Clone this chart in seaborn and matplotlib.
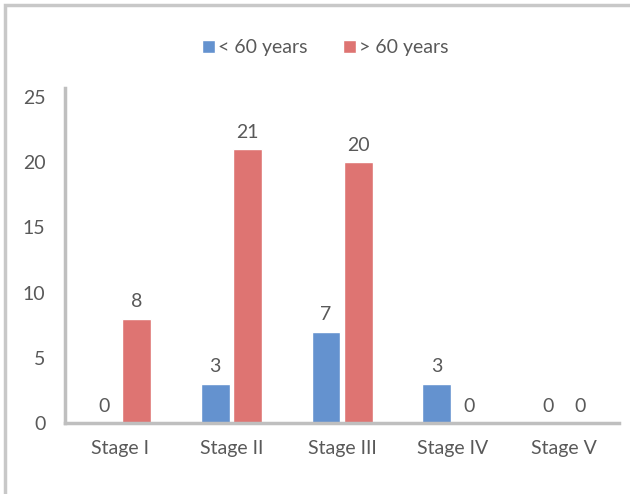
import pandas as pd
import matplotlib
matplotlib.use("Agg")
import matplotlib.pyplot as plt
import seaborn as sns
from matplotlib.patches import Rectangle

# Data
stages = ["Stage I", "Stage II", "Stage III", "Stage IV", "Stage V"]
under_60 = [0, 3, 7, 3, 0]
over_60 = [8, 21, 20, 0, 0]
groups = ["< 60 years", "> 60 years"]

data = pd.DataFrame({
    "Stage": stages * 2,
    "Group": [groups[0]] * len(stages) + [groups[1]] * len(stages),
    "Count": under_60 + over_60,
})

sns.set_style("white")
plt.rcParams["font.family"] = ["Lato", "DejaVu Sans"]
text_col = "#595959"
fs = 14

fig = plt.figure(figsize=(6.3, 4.94), dpi=100)
ax = fig.add_axes([0.103, 0.144, 0.880, 0.678])

palette = {groups[0]: "#6492cf", groups[1]: "#de7472"}
sns.barplot(data=data, x="Stage", y="Count", hue="Group", palette=palette,
            width=0.58, gap=0.1, saturation=1, ax=ax, legend=True)

for container in ax.containers:
    ax.bar_label(container, padding=6, fontsize=fs, color=text_col)

ax.set_ylim(0, 25.7)
ax.set_yticks([0, 5, 10, 15, 20, 25])
ax.set_xlim(-0.5, 4.5)
ax.set_xlabel("")
ax.set_ylabel("")
ax.tick_params(axis="both", labelsize=fs, colors=text_col, length=0)
ax.tick_params(axis="y", pad=14)
ax.tick_params(axis="x", pad=12)

for side in ["top", "right"]:
    ax.spines[side].set_visible(False)
for side in ["left", "bottom"]:
    ax.spines[side].set_color("#bfbfbf")
    ax.spines[side].set_linewidth(2.5)

ax.legend(loc="center", bbox_to_anchor=(0.47, 1.12), ncol=2, frameon=False,
          fontsize=fs, labelcolor=text_col, handlelength=0.65, handleheight=0.65,
          handletextpad=0.2, columnspacing=1.8)

# outer chart border
fig.patches.append(Rectangle((0.008, -0.02), 1.2, 1.01, transform=fig.transFigure,
                             fill=False, edgecolor="#c8c8c8", linewidth=2.5))

fig.savefig("out.png", dpi=100)
